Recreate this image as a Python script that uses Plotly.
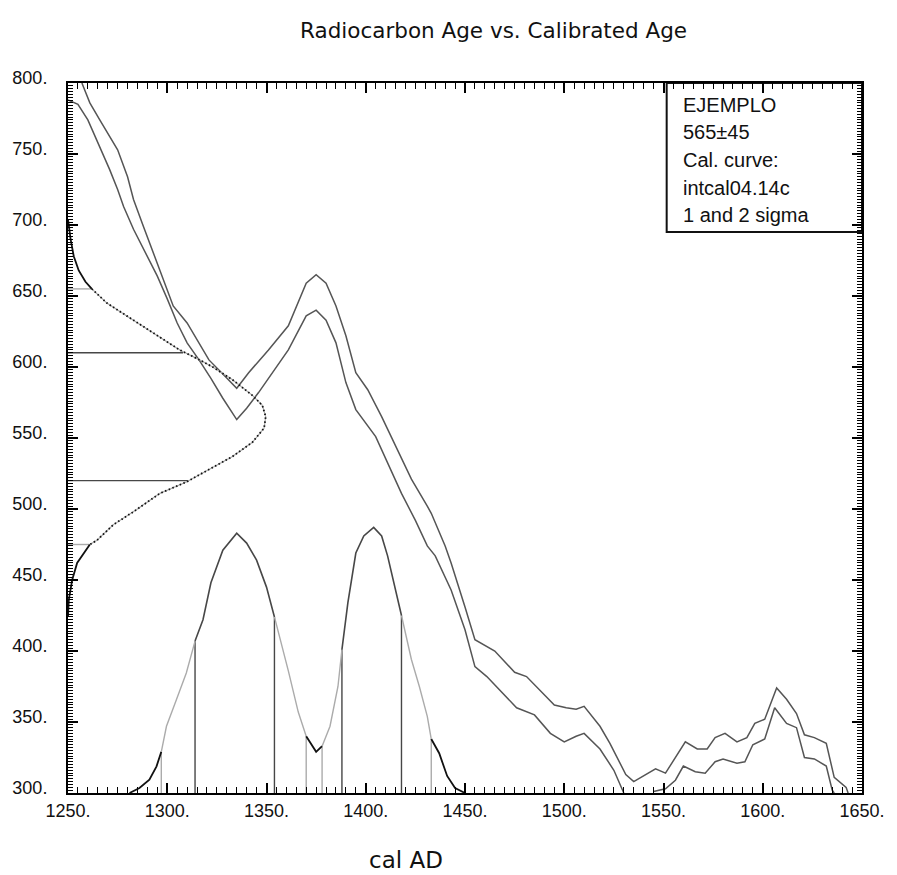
import plotly.graph_objects as go

# ---------------- data ----------------
# calibration curve, upper and lower band (cal AD, radiocarbon BP)
cal_upper_year = [1257, 1261, 1266, 1271, 1275, 1280, 1283, 1288, 1293, 1298, 1303, 1310, 1316, 1321,
                  1328, 1335, 1341, 1351, 1361, 1370, 1375, 1380, 1385, 1390, 1395, 1401, 1408, 1415,
                  1423, 1431, 1433, 1440, 1443, 1450, 1455, 1465, 1475, 1481, 1486, 1495, 1501, 1506,
                  1510, 1518, 1523, 1531, 1535, 1541, 1546, 1551, 1556, 1561, 1567, 1572, 1576, 1581,
                  1587, 1592, 1596, 1601, 1607, 1612, 1617, 1621, 1626, 1632, 1636, 1642, 1643]
cal_upper_bp = [800, 786, 774, 762, 753, 734, 718, 699, 680, 662, 643, 631, 617, 605,
                595, 585, 596, 612, 629, 659, 665, 659, 643, 622, 596, 584, 565, 544,
                521, 502, 497, 474, 462, 431, 408, 400, 385, 382, 375, 362, 360, 359,
                361, 347, 335, 313, 308, 313, 317, 314, 325, 336, 331, 331, 339, 342,
                336, 339, 349, 352, 374, 366, 356, 341, 339, 335, 311, 304, 300]

cal_lower_year = [1250, 1255, 1260, 1266, 1271, 1275, 1278, 1283, 1288, 1295, 1300, 1305, 1310, 1316,
                  1322, 1328, 1335, 1340, 1346, 1355, 1361, 1370, 1375, 1380, 1385, 1390, 1395, 1405,
                  1411, 1418, 1425, 1431, 1435, 1443, 1450, 1455, 1461, 1465, 1476, 1485, 1493, 1500,
                  1506, 1510, 1518, 1525, 1530, None, 1545, 1551, 1556, 1560, 1566, 1571, 1576, 1580,
                  1587, 1591, 1595, 1601, 1606, 1612, 1617, 1621, 1626, 1632, 1635, 1636]
cal_lower_bp = [788, 785, 774, 755, 739, 725, 713, 697, 683, 664, 648, 631, 617, 605,
                592, 578, 563, 571, 582, 600, 612, 636, 640, 633, 617, 589, 570, 551,
                532, 511, 492, 474, 467, 443, 415, 389, 382, 376, 360, 355, 342, 336,
                340, 342, 331, 316, 300, None, 301, 303, 309, 319, 315, 314, 322, 324,
                321, 322, 334, 338, 360, 349, 346, 325, 324, 319, 302, 300]

# radiocarbon date 565±45, drawn sideways from the left axis
c14_age = [704, 690, 678, 668, 660, 655, 645, 636, 624, 612, 605, 600, 591, 580, 573, 565,
           557, 547, 537, 527, 519, 511, 498, 489, 478, 475, 462, 450, 436, 424]
c14_reach_year = [1250, 1251.3, 1252.9, 1255.4, 1258.8, 1262, 1269.6, 1279.6, 1292.9, 1306.3,
                  1316.3, 1322.9, 1332.9, 1342.9, 1347.9, 1349.6, 1348.8, 1342.9, 1332.9, 1319.6,
                  1309.6, 1296.3, 1282.9, 1272.9, 1264.6, 1261, 1254.6, 1252.1, 1250.4, 1250]
c14_two_sigma = (475, 655)
c14_sigma_age = [655, 610, 520, 475]
c14_sigma_reach = [1262, 1308, 1310, 1261]
c14_sigma_level = [2, 1, 1, 2]

# calibrated probability distribution (height in axis units above the 300 baseline)
prob_year = [1281, 1286, 1291, 1294.6, 1297, 1299.6, 1304.6, 1309.6, 1314, 1318, 1322, 1328,
             1335, 1340, 1345, 1350, 1354, 1357, 1361, 1366, 1370, 1375, 1378, 1382, 1386,
             1388, 1391, 1395, 1399, 1404, 1408, 1411, 1415, 1418, 1420, 1423, 1427, 1431,
             1433, 1437, 1441, 1445, 1450]
prob_height = [300, 303.5, 309.4, 318.8, 329, 347, 365.7, 384.5, 407, 422, 448, 471,
               483, 476, 464, 445, 424, 408, 386, 357, 340, 329, 333, 347, 375,
               401, 434, 469, 481, 487, 481, 467, 443, 425, 413, 394, 375, 354,
               338, 328, 312, 303.5, 300]

one_sigma_ranges = [(1314, 1354), (1388, 1418)]
two_sigma_ranges = [(1297, 1370), (1378, 1433)]
bound_year = [1297, 1314, 1354, 1370, 1378, 1388, 1418, 1433]
bound_height = [329, 407, 424, 340, 333, 401, 425, 338]
bound_level = [2, 1, 1, 2, 2, 1, 1, 2]

x_range = [1250, 1650]
y_range = [300, 800]
tick_step = 50

title_text = "Radiocarbon Age vs. Calibrated Age"
x_title = "cal AD"
info_lines = ["EJEMPLO", "565±45", "Cal. curve:", "intcal04.14c", "1 and 2 sigma"]

# ---------------- styles ----------------
CURVE = "#555555"
DARK = "#474747"
LIGHT = "#ababab"
BLACK = "#111111"
SANS = "Liberation Sans, Arial, sans-serif"

fig = go.Figure()

# calibration curve
fig.add_trace(go.Scatter(x=cal_upper_year, y=cal_upper_bp, mode="lines",
                         line=dict(color=CURVE, width=1.5), hoverinfo="skip"))
fig.add_trace(go.Scatter(x=cal_lower_year, y=cal_lower_bp, mode="lines", connectgaps=False,
                         line=dict(color=CURVE, width=1.5), hoverinfo="skip"))


def runs(xs, ys, cls):
    """group consecutive segments of the same class into contiguous runs"""
    out = {}
    cur = None
    for i in range(len(xs) - 1):
        c = cls(i)
        if cur is None or cur[0] != c:
            if cur is not None:
                out.setdefault(cur[0], []).append(cur[1:])
            cur = [c, [xs[i]], [ys[i]]]
        cur[1].append(xs[i + 1])
        cur[2].append(ys[i + 1])
    out.setdefault(cur[0], []).append(cur[1:])
    res = {}
    for c, rl in out.items():
        X, Y = [], []
        for rx, ry in rl:
            X += rx + [None]
            Y += ry + [None]
        res[c] = (X, Y)
    return res


# sigma lines of the radiocarbon date
for age, reach, lev in zip(c14_sigma_age, c14_sigma_reach, c14_sigma_level):
    fig.add_trace(go.Scatter(x=[x_range[0], reach], y=[age, age], mode="lines",
                             line=dict(color=DARK if lev == 1 else LIGHT, width=1.4),
                             hoverinfo="skip"))


# radiocarbon date curve
def c14_cls(i):
    mid = (c14_age[i] + c14_age[i + 1]) / 2
    return "in" if c14_two_sigma[0] <= mid <= c14_two_sigma[1] else "out"


for c, (X, Y) in runs(c14_reach_year, c14_age, c14_cls).items():
    if c == "out":
        fig.add_trace(go.Scatter(x=X, y=Y, mode="lines", line=dict(color=BLACK, width=1.8),
                                 hoverinfo="skip"))
    else:
        fig.add_trace(go.Scatter(x=X, y=Y, mode="lines", line=dict(color=LIGHT, width=1.2),
                                 hoverinfo="skip"))
        fig.add_trace(go.Scatter(x=X, y=Y, mode="lines",
                                 line=dict(color=BLACK, width=1.8, dash="1.5px,2.5px"),
                                 hoverinfo="skip"))

# vertical range boundaries
for yr, h, lev in zip(bound_year, bound_height, bound_level):
    fig.add_trace(go.Scatter(x=[yr, yr], y=[y_range[0], h], mode="lines",
                             line=dict(color=DARK if lev == 1 else LIGHT, width=1.4),
                             hoverinfo="skip"))


# calibrated distribution
def prob_cls(i):
    mid = (prob_year[i] + prob_year[i + 1]) / 2
    if any(a <= mid <= b for a, b in one_sigma_ranges):
        return "one"
    if any(a <= mid <= b for a, b in two_sigma_ranges):
        return "two"
    return "out"


prob_style = {"one": (DARK, 1.6), "two": (LIGHT, 1.4), "out": (BLACK, 1.8)}
for c, (X, Y) in runs(prob_year, prob_height, prob_cls).items():
    col, w = prob_style[c]
    fig.add_trace(go.Scatter(x=X, y=Y, mode="lines", line=dict(color=col, width=w),
                             hoverinfo="skip"))

# info box
fig.add_shape(type="rect", xref="paper", yref="paper", x0=0.754, x1=1.0, y0=0.790, y1=1.0,
              line=dict(color=BLACK, width=2), fillcolor="white", layer="below")
for k, t in enumerate(info_lines):
    fig.add_annotation(text=t, xref="paper", yref="paper", x=0.7725,
                       y=(793 - (104.7 + 27.7 * k)) / 710, xanchor="left", yanchor="middle",
                       showarrow=False, font=dict(family=SANS, size=20, color=BLACK))

fig.add_annotation(text=title_text, xref="paper", yref="paper", x=0.5364, y=1.0746,
                   xanchor="center", yanchor="middle", showarrow=False,
                   font=dict(family="DejaVu Sans", size=21.5, color=BLACK))
fig.add_annotation(text=x_title, xref="paper", yref="paper", x=0.426, y=-0.0944,
                   xanchor="center", yanchor="middle", showarrow=False,
                   font=dict(family="DejaVu Sans", size=23, color=BLACK))

axis_common = dict(showline=True, linecolor="black", linewidth=2, mirror="allticks",
                   ticks="inside", ticklen=10, tickwidth=2, tickcolor="black",
                   showgrid=False, zeroline=False, tickmode="linear", dtick=tick_step,
                   ticksuffix=".",
                   tickfont=dict(family=SANS, size=18, color=BLACK))

fig.update_xaxes(range=x_range, tick0=x_range[0],
                 minor=dict(tickmode="linear", tick0=x_range[0], dtick=5, ticks="inside",
                            ticklen=6, tickwidth=1.2, tickcolor="black", showgrid=False),
                 **axis_common)
fig.update_yaxes(range=y_range, tick0=y_range[0], ticklabelshift=-5, ticklabelstandoff=15,
                 minor=dict(tickmode="linear", tick0=y_range[0], dtick=2, ticks="inside",
                            ticklen=5, tickwidth=1.1, tickcolor="black", showgrid=False),
                 **axis_common)

fig.update_layout(width=897, height=875, showlegend=False,
                  margin=dict(l=67, r=30, t=83, b=82),
                  paper_bgcolor="white", plot_bgcolor="white")

fig.write_html("out.html", config={"displayModeBar": False},
               post_script="document.body.style.margin='0px';document.body.style.overflow='hidden';")
